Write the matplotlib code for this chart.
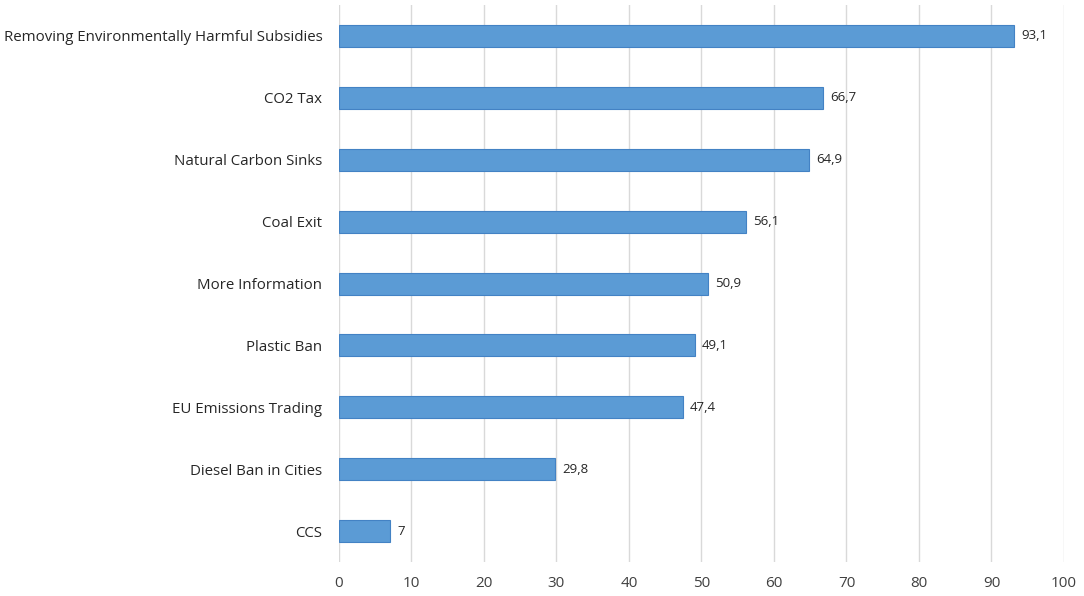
import matplotlib
matplotlib.use("Agg")
import matplotlib.pyplot as plt

categories = ["Removing Environmentally Harmful Subsidies", "CO2 Tax", "Natural Carbon Sinks",
              "Coal Exit", "More Information", "Plastic Ban", "EU Emissions Trading",
              "Diesel Ban in Cities", "CCS"]
values = [93.1, 66.7, 64.9, 56.1, 50.9, 49.1, 47.4, 29.8, 7]
value_labels = ["93,1", "66,7", "64,9", "56,1", "50,9", "49,1", "47,4", "29,8", "7"]
xticks = [0, 10, 20, 30, 40, 50, 60, 70, 80, 90, 100]

plt.rcParams['font.family'] = ['Open Sans', 'DejaVu Sans']

fig = plt.figure(figsize=(10.84, 5.96), dpi=100)
ax = fig.add_axes([0.3127, 0.057, 0.9815 - 0.3127, 0.9916 - 0.057])

n = len(categories)
ypos = list(range(n))[::-1]
ax.barh(ypos, values, height=0.355, color="#5b9bd5", edgecolor="#4382c4", linewidth=0.8, zorder=3)
for y, v, lab in zip(ypos, values, value_labels):
    ax.text(v + 1.0, y, lab, va="center", ha="left", fontsize=9.5, color="#262626")

ax.set_xlim(0, 100)
ax.set_ylim(-0.5, n - 0.5)
ax.set_xticks(xticks)
ax.set_xticklabels([str(t) for t in xticks], fontsize=11, color="#404040")
ax.set_yticks(ypos)
ax.set_yticklabels(categories, fontsize=10.8, color="#262626")
ax.tick_params(axis="both", length=0)
ax.tick_params(axis="x", pad=10)
ax.tick_params(axis="y", pad=12)
ax.grid(axis="x", color="#d9d9d9", linewidth=1, zorder=0)
for s in ax.spines.values():
    s.set_visible(False)

fig.savefig("out.png", dpi=100)
